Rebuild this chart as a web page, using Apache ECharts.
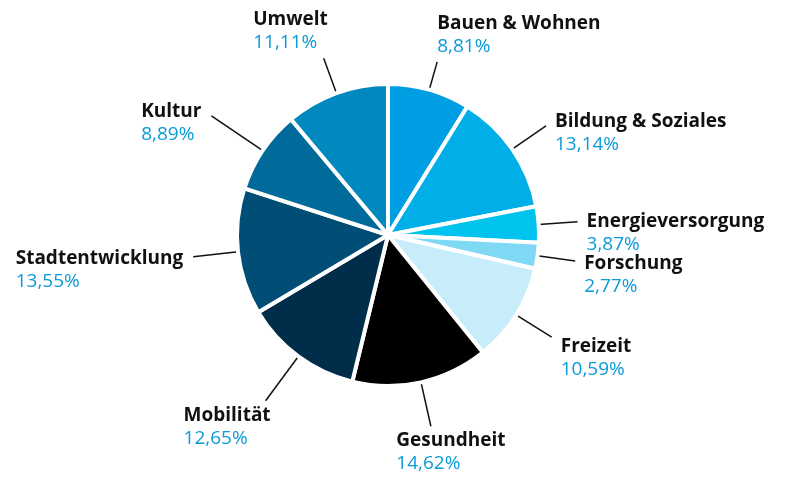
<!DOCTYPE html>
<html>
<head>
<meta charset="utf-8">
<script src="https://cdn.jsdelivr.net/npm/echarts@6/dist/echarts.min.js"></script>
<style>
  html, body { margin: 0; padding: 0; background: #fff; }
  #chart { width: 800px; height: 480px; }
</style>
</head>
<body>
<div id="chart"></div>
<script>
var categories = ['Bauen & Wohnen', 'Bildung & Soziales', 'Energieversorgung', 'Forschung',
    'Freizeit', 'Gesundheit', 'Mobilität', 'Stadtentwicklung', 'Kultur', 'Umwelt'];
var shares = [8.81, 13.14, 3.87, 2.77, 10.59, 14.62, 12.65, 13.55, 8.89, 11.11];
var colors = ['#009fe3', '#00afe8', '#00c3ee', '#7fd9f4', '#c8edfa',
    '#000000', '#002d4a', '#004e75', '#006b9a', '#0088bf'];
// length of the leader line for each slice
var lineLen = [29, 41, 39, 38, 42, 45, 55, 45, 62, 37];

var fmtPct = function (v) {
    return v.toFixed(2).replace('.', ',') + '%';
};

var chart = echarts.init(document.getElementById('chart'));

var option = {
    backgroundColor: '#fff',
    animation: false,
    series: [{
        type: 'pie',
        center: [388, 235],
        radius: [0, 151],
        startAngle: 90,
        clockwise: true,
        avoidLabelOverlap: false,
        itemStyle: { borderColor: '#fff', borderWidth: 4 },
        label: {
            show: true,
            position: 'outside',
            formatter: function (p) {
                return '{n|' + p.name + '}\n{v|' + fmtPct(p.value) + '}';
            },
            rich: {
                n: { fontFamily: 'Open Sans', fontWeight: 'bold', fontSize: 19, color: '#111', lineHeight: 23, align: 'left' },
                v: { fontFamily: 'Open Sans', fontSize: 19, color: '#0a9ad8', lineHeight: 23, align: 'left' }
            }
        },
        labelLine: {
            show: true,
            length: 35,
            length2: 0,
            lineStyle: { color: '#111', width: 1.5 }
        },
        labelLayout: function (p) {
            var pts = p.labelLinePoints;
            if (!pts) return {};
            var s = pts[0], e = pts[1];
            var dx = e[0] - s[0], dy = e[1] - s[1];
            var len = Math.sqrt(dx * dx + dy * dy) || 1;
            dx /= len; dy /= len;
            var res = { labelLinePoints: [s, e] };
            if (dy < -0.8) {
                res.verticalAlign = 'bottom';
                res.y = e[1] - 4;
                if (dx < 0) { res.align = 'right'; res.x = e[0] + 4; }
                else { res.align = 'left'; res.x = e[0]; }
            } else if (dy > 0.75) {
                res.verticalAlign = 'top';
                res.y = e[1] + 3;
                if (dx < 0) { res.align = 'right'; res.x = e[0] + 5; }
                else { res.align = 'center'; res.x = e[0] + 20; }
            } else {
                // first line (name) sits roughly level with the line end
                res.verticalAlign = 'top';
                res.y = e[1] + (dy < 0 ? 7 : 18) * dy - 11.5;
                if (dx < 0) { res.align = 'right'; res.x = e[0] - 10; }
                else { res.align = 'left'; res.x = e[0] + 9; }
            }
            return res;
        },
        data: categories.map(function (name, i) {
            return {
                name: name,
                value: shares[i],
                itemStyle: { color: colors[i] },
                labelLine: { length: lineLen[i] }
            };
        })
    }]
};
chart.setOption(option);
</script>
</body>
</html>
